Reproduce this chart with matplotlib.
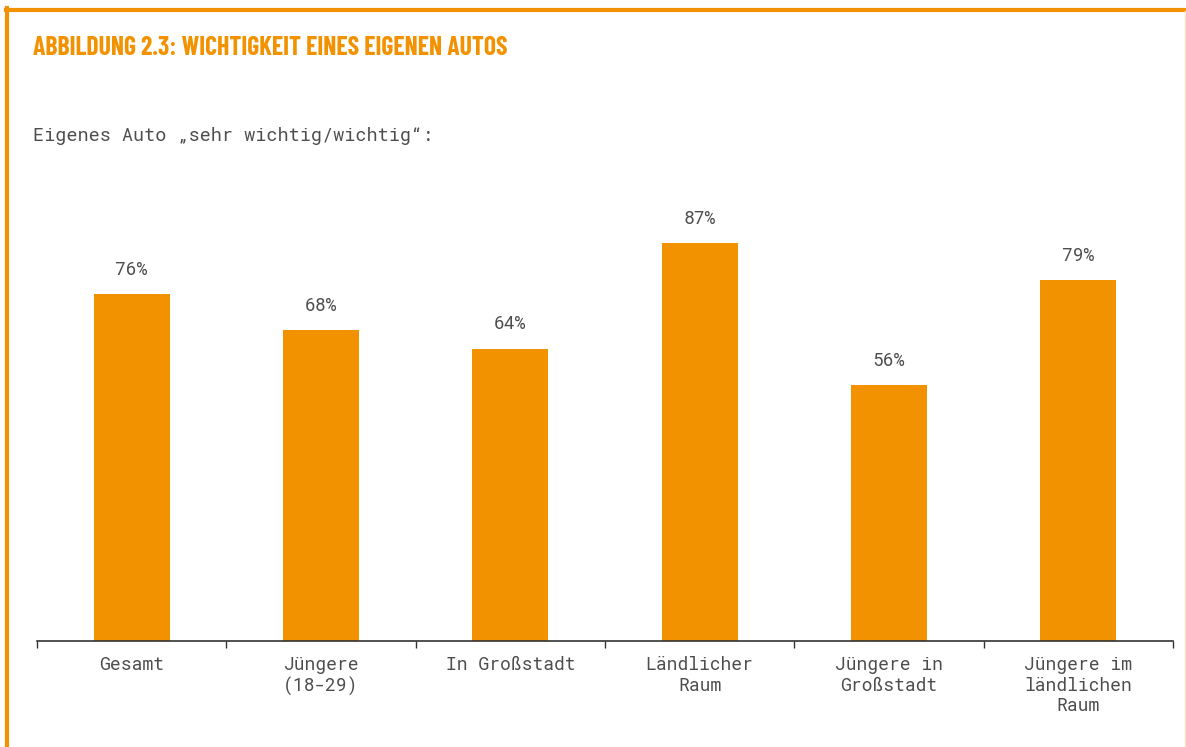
import matplotlib
matplotlib.use("Agg")
import matplotlib.pyplot as plt
from matplotlib.lines import Line2D

categories = ["Gesamt", "Jüngere\n(18-29)", "In Großstadt", "Ländlicher\nRaum",
              "Jüngere in\nGroßstadt", "Jüngere im\nländlichen\nRaum"]
values = [76, 68, 64, 87, 56, 79]
value_labels = ["76%", "68%", "64%", "87%", "56%", "79%"]

orange = "#F39200"
grey = "#4d4d4d"
title_font = ["Barlow Condensed", "DejaVu Sans"]
mono = ["Roboto Mono", "DejaVu Sans Mono"]

W, H = 1186, 747
fig = plt.figure(figsize=(W / 100, H / 100), dpi=100)

# axes placed in pixel coordinates
left, right, bottom, top = 37, 1173, 641, 184
ax = fig.add_axes([left / W, 1 - bottom / H, (right - left) / W, (bottom - top) / H])

x = range(len(categories))
ax.bar(x, values, width=0.4, color=orange)
ax.set_xlim(-0.5, len(categories) - 0.5)
ax.set_ylim(0, 100)

for xi, v, lab in zip(x, values, value_labels):
    ax.text(xi, v + 3.3, lab, ha="center", va="bottom", fontsize=13,
            family=mono, fontweight="light", color=grey)

for s in ["top", "right", "left"]:
    ax.spines[s].set_visible(False)
ax.spines["bottom"].set_color("#333333")
ax.spines["bottom"].set_linewidth(1.2)
ax.set_yticks([])

ax.set_xticks(list(x))
ax.set_xticklabels(categories, family=mono, fontweight="light", fontsize=13,
                   color=grey, linespacing=1.17)
ax.tick_params(axis="x", which="major", length=0, pad=11)
ax.set_xticks([i - 0.5 for i in range(len(categories) + 1)], minor=True)
ax.tick_params(axis="x", which="minor", length=5, width=1, color="#333333",
               direction="out")

# title & subtitle
fig.text(33 / W, 1 - 48 / H, "ABBILDUNG 2.3: WICHTIGKEIT EINES EIGENEN AUTOS",
         family=title_font, fontweight="bold", fontsize=18.5, color=orange,
         va="center", ha="left")
fig.text(33 / W, 1 - 136 / H, "Eigenes Auto „sehr wichtig/wichtig“:",
         family=mono, fontweight="light", fontsize=13.3, color=grey,
         va="center", ha="left")

# frame
fig.add_artist(Line2D([6 / W, 1], [1 - 9.5 / H, 1 - 9.5 / H], color=orange, lw=3,
                      transform=fig.transFigure))
fig.add_artist(Line2D([7 / W, 7 / W], [0, 1 - 8 / H], color=orange, lw=3,
                      transform=fig.transFigure))
fig.add_artist(Line2D([1184.5 / W, 1184.5 / W], [0, 1 - 11 / H], color="#FBE3C4", lw=1,
                      transform=fig.transFigure))

fig.savefig("out.png", dpi=100)
